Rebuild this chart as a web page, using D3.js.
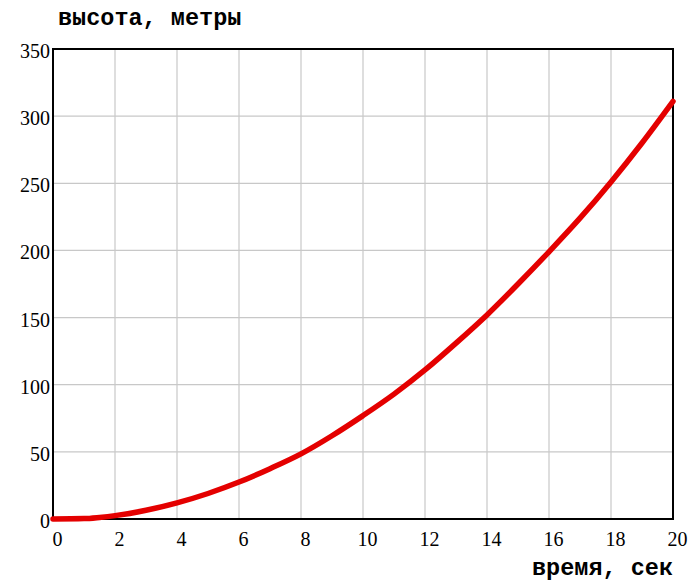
<!DOCTYPE html>
<html><head><meta charset="utf-8">
<script src="https://cdn.jsdelivr.net/npm/d3@7"></script>
<style>body{margin:0;background:#fff}</style>
</head><body>
<script>
const times   = [0, 1, 1.5, 2, 3, 4, 5, 6, 7, 8, 9, 10, 11, 12, 13, 14, 15, 16, 17, 18, 19, 20];
const heights = [0, 0.3, 1.2, 2.5, 6.5, 12, 19, 27.5, 37.5, 48.5, 62, 77, 93, 111, 131, 152, 175, 199, 224, 251, 280, 311];
const xTicks = [0, 2, 4, 6, 8, 10, 12, 14, 16, 18, 20];
const yTicks = [0, 50, 100, 150, 200, 250, 300, 350];
const yTitle = "высота, метры";
const xTitle = "время, сек";

const W = 700, H = 588;
const m = {left: 53, right: 27, top: 49, bottom: 69};
const svg = d3.select("body").append("svg").attr("width", W).attr("height", H);
const x = d3.scaleLinear().domain([0, 20]).range([m.left, W - m.right]);
const y = d3.scaleLinear().domain([0, 350]).range([H - m.bottom, m.top]);

// grid
svg.append("g").selectAll("line").data(xTicks.slice(1, -1)).join("line")
  .attr("x1", d => x(d)).attr("x2", d => x(d)).attr("y1", y(0)).attr("y2", y(350))
  .attr("stroke", "#c8c8c8").attr("stroke-width", 1.2);
svg.append("g").selectAll("line").data(yTicks.slice(1, -1)).join("line")
  .attr("y1", d => y(d)).attr("y2", d => y(d)).attr("x1", x(0)).attr("x2", x(20))
  .attr("stroke", "#c8c8c8").attr("stroke-width", 1.2);

// frame
svg.append("rect").attr("x", x(0)).attr("y", y(350))
  .attr("width", x(20) - x(0)).attr("height", y(0) - y(350))
  .attr("fill", "none").attr("stroke", "#000").attr("stroke-width", 2);

// tick labels
svg.append("g").selectAll("text").data(xTicks).join("text")
  .attr("x", d => x(d) + 4.5).attr("y", 546)
  .attr("text-anchor", "middle")
  .attr("font-family", "Liberation Serif, Times New Roman, serif").attr("font-size", 20)
  .text(d => d);
svg.append("g").selectAll("text").data(yTicks).join("text")
  .attr("x", 50).attr("y", d => y(d) + 9)
  .attr("text-anchor", "end")
  .attr("font-family", "Liberation Serif, Times New Roman, serif").attr("font-size", 20)
  .text(d => d);

// titles
svg.append("text").attr("x", 58).attr("y", 25)
  .attr("font-family", "Liberation Mono, Courier New, monospace").attr("font-weight", "bold")
  .attr("font-size", 23.5).text(yTitle);
svg.append("text").attr("x", 673).attr("y", 575).attr("text-anchor", "end")
  .attr("font-family", "Liberation Mono, Courier New, monospace").attr("font-weight", "bold")
  .attr("font-size", 23.5).text(xTitle);

// curve
const data = times.map((t, i) => [t, heights[i]]);
svg.append("path").datum(data)
  .attr("d", d3.line().x(d => x(d[0])).y(d => y(d[1])).curve(d3.curveMonotoneX))
  .attr("fill", "none").attr("stroke", "#e40000").attr("stroke-width", 5.5)
  .attr("stroke-linecap", "round");
</script>
</body></html>
